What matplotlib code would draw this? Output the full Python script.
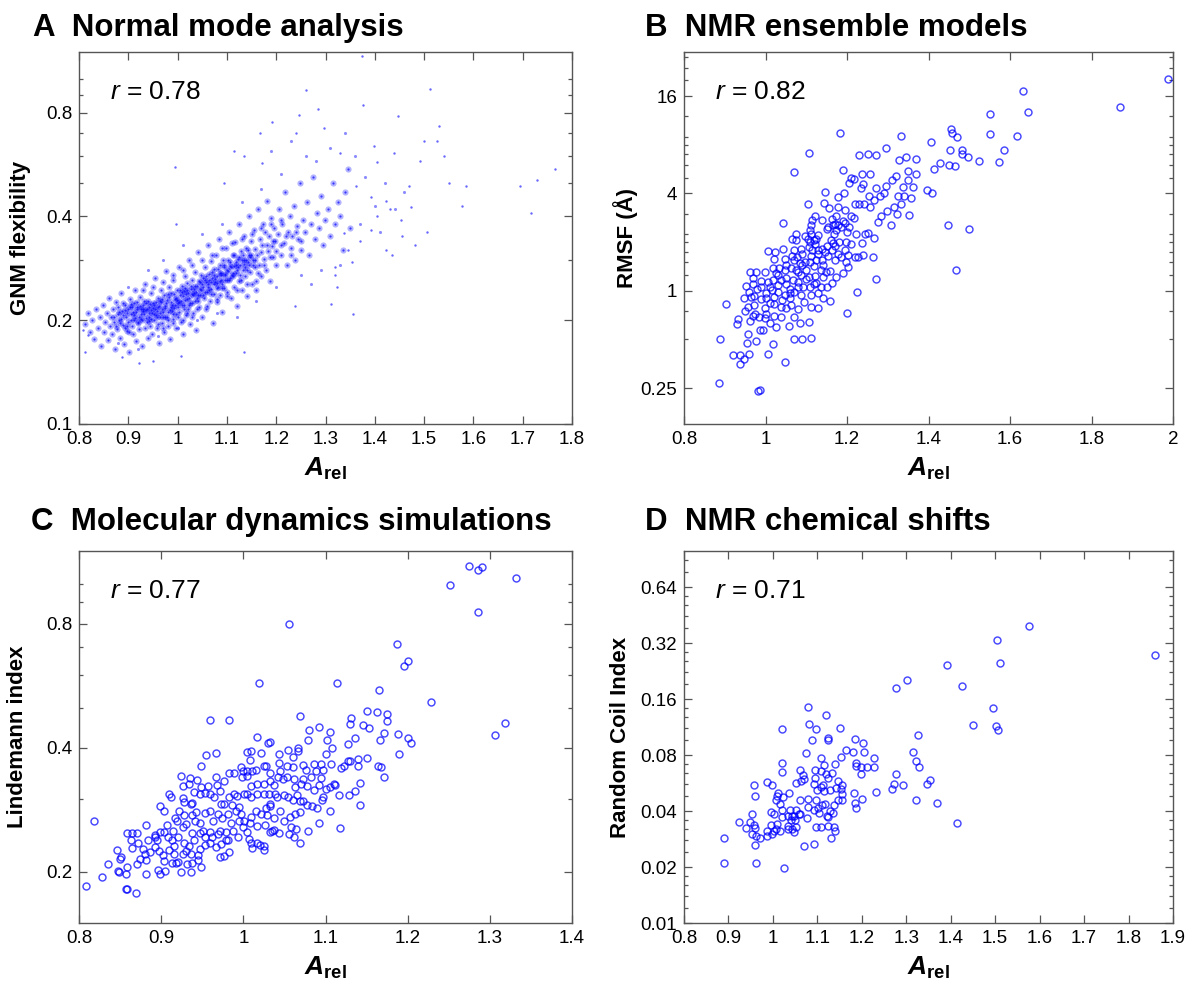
import matplotlib
matplotlib.use('Agg')
import matplotlib.pyplot as plt
from matplotlib.ticker import FixedLocator, NullFormatter

plt.rcParams['font.family'] = ['Liberation Sans', 'DejaVu Sans']
plt.rcParams['mathtext.fontset'] = 'custom'
plt.rcParams['mathtext.rm'] = 'Liberation Sans'
plt.rcParams['mathtext.it'] = 'Liberation Sans:italic:bold'
plt.rcParams['mathtext.bf'] = 'Liberation Sans:bold'
plt.rcParams['mathtext.sf'] = 'Liberation Sans:italic'

# ---------------- data ----------------
# A: normal mode analysis (A_rel, GNM flexibility)
gnm_core = [
    (0.812,0.195),(0.818,0.21),(0.822,0.185),(0.826,0.2),(0.83,0.176),(0.834,0.215),(0.838,0.19),
    (0.842,0.205),(0.845,0.168),(0.848,0.222),(0.85,0.185),(0.852,0.198),(0.856,0.21),(0.858,0.175),
    (0.86,0.232),(0.862,0.193),(0.865,0.204),(0.867,0.183),(0.869,0.216),(0.871,0.197),(0.873,0.165),
    (0.875,0.226),(0.877,0.189),(0.879,0.208),(0.881,0.2),(0.883,0.178),(0.885,0.24),(0.887,0.213),
    (0.889,0.194),(0.891,0.171),(0.893,0.222),(0.895,0.205),(0.897,0.186),(0.899,0.215),(0.9,0.198),
    (0.902,0.162),(0.904,0.23),(0.905,0.208),(0.907,0.192),(0.908,0.219),(0.91,0.182),(0.912,0.2),
    (0.913,0.245),(0.915,0.212),(0.916,0.174),(0.918,0.226),(0.919,0.196),(0.921,0.205),(0.922,0.188),
    (0.924,0.234),(0.925,0.215),(0.927,0.2),(0.928,0.168),(0.93,0.222),(0.931,0.209),(0.933,0.19),
    (0.934,0.255),(0.936,0.214),(0.937,0.198),(0.939,0.178),(0.94,0.228),(0.942,0.205),(0.943,0.218),
    (0.945,0.193),(0.946,0.24),(0.948,0.21),(0.949,0.183),(0.951,0.225),(0.952,0.2),(0.954,0.215),
    (0.955,0.265),(0.957,0.207),(0.958,0.19),(0.96,0.232),(0.961,0.219),(0.963,0.172),(0.964,0.204),
    (0.966,0.245),(0.967,0.226),(0.969,0.196),(0.97,0.212),(0.972,0.236),(0.973,0.185),(0.975,0.22),
    (0.976,0.278),(0.978,0.205),(0.979,0.229),(0.981,0.193),(0.982,0.25),(0.984,0.214),(0.985,0.176),
    (0.987,0.24),(0.988,0.222),(0.99,0.202),(0.991,0.261),(0.993,0.217),(0.994,0.231),(0.996,0.19),
    (0.997,0.208),(0.999,0.244),(1.0,0.225),(1.002,0.212),(1.003,0.285),(1.005,0.236),(1.006,0.198),
    (1.008,0.252),(1.009,0.221),(1.011,0.182),(1.012,0.243),(1.014,0.229),(1.015,0.268),(1.017,0.207),
    (1.018,0.238),(1.02,0.256),(1.021,0.216),(1.023,0.3),(1.024,0.232),(1.026,0.195),(1.027,0.247),
    (1.029,0.224),(1.03,0.262),(1.032,0.21),(1.033,0.24),(1.035,0.276),(1.036,0.228),(1.038,0.187),
    (1.039,0.252),(1.041,0.236),(1.042,0.315),(1.044,0.219),(1.045,0.258),(1.047,0.244),(1.048,0.27),
    (1.05,0.205),(1.052,0.25),(1.053,0.232),(1.055,0.286),(1.056,0.262),(1.058,0.215),(1.059,0.241),
    (1.061,0.33),(1.062,0.255),(1.064,0.272),(1.065,0.228),(1.067,0.298),(1.068,0.247),(1.07,0.265),
    (1.071,0.196),(1.073,0.238),(1.074,0.281),(1.076,0.258),(1.077,0.31),(1.079,0.226),(1.08,0.268),
    (1.082,0.25),(1.083,0.345),(1.085,0.29),(1.086,0.236),(1.088,0.275),(1.089,0.262),(1.091,0.212),
    (1.092,0.3),(1.094,0.248),(1.095,0.285),(1.097,0.27),(1.098,0.325),(1.1,0.242),(1.102,0.278),
    (1.104,0.262),(1.105,0.36),(1.107,0.295),(1.109,0.232),(1.11,0.27),(1.112,0.31),(1.114,0.25),
    (1.115,0.288),(1.117,0.338),(1.119,0.275),(1.12,0.22),(1.122,0.302),(1.124,0.26),(1.125,0.38),
    (1.127,0.29),(1.129,0.318),(1.13,0.245),(1.132,0.28),(1.134,0.35),(1.135,0.3),(1.137,0.268),
    (1.139,0.325),(1.14,0.235),(1.142,0.295),(1.144,0.4),(1.145,0.31),(1.147,0.276),(1.149,0.34),
    (1.15,0.255),(1.152,0.3),(1.154,0.365),(1.156,0.285),(1.158,0.322),(1.16,0.245),(1.162,0.31),
    (1.164,0.42),(1.166,0.29),(1.168,0.345),(1.17,0.268),(1.172,0.33),(1.174,0.38),(1.176,0.302),
    (1.178,0.36),(1.18,0.28),(1.182,0.445),(1.184,0.318),(1.186,0.35),(1.188,0.26),(1.19,0.395),
    (1.192,0.328),(1.194,0.305),(1.196,0.37),(1.198,0.34),(1.2,0.29),(1.203,0.355),(1.206,0.42),
    (1.209,0.31),(1.212,0.38),(1.215,0.335),(1.218,0.47),(1.221,0.29),(1.224,0.36),(1.227,0.4),
    (1.23,0.325),(1.233,0.35),(1.236,0.43),(1.239,0.3),(1.242,0.375),(1.245,0.345),(1.248,0.5),
    (1.25,0.32),(1.254,0.39),(1.258,0.36),(1.262,0.44),(1.266,0.31),(1.27,0.38),(1.274,0.52),
    (1.278,0.345),(1.282,0.41),(1.286,0.37),(1.29,0.46),(1.294,0.33),(1.298,0.39),(1.305,0.42),
    (1.31,0.35),(1.315,0.5),(1.32,0.38),(1.325,0.44),(1.33,0.4),(1.335,0.32),(1.34,0.47),(1.345,0.55),
    (1.35,0.37),
]
gnm_ridge = [
    (0.882,0.212),(0.886,0.201),(0.89,0.207),(0.894,0.214),(0.898,0.193),(0.903,0.218),(0.906,0.2),
    (0.909,0.211),(0.911,0.224),(0.914,0.203),(0.917,0.215),(0.92,0.197),(0.923,0.22),(0.926,0.208),
    (0.929,0.213),(0.932,0.228),(0.935,0.203),(0.938,0.216),(0.941,0.21),(0.944,0.223),(0.947,0.201),
    (0.95,0.217),(0.953,0.208),(0.956,0.226),(0.959,0.213),(0.962,0.22),(0.965,0.21),(0.968,0.231),
    (0.971,0.204),(0.974,0.217),(0.977,0.224),(0.98,0.211),(0.983,0.234),(0.986,0.226),(0.989,0.213),
    (0.992,0.238),(0.995,0.221),(0.998,0.229),(1.001,0.218),(1.004,0.245),(1.007,0.228),(1.01,0.235),
    (1.013,0.221),(1.016,0.248),(1.019,0.23),(1.022,0.24),(1.025,0.225),(1.028,0.252),(1.031,0.236),
    (1.034,0.247),(1.037,0.241),(1.04,0.232),(1.043,0.26),(1.046,0.237),(1.049,0.255),(1.052,0.266),
    (1.055,0.242),(1.058,0.258),(1.061,0.249),(1.064,0.262),(1.067,0.238),(1.07,0.276),(1.073,0.255),
    (1.076,0.264),(1.079,0.248),(1.082,0.282),(1.085,0.26),(1.088,0.27),(1.091,0.255),(1.094,0.29),
    (1.097,0.262),(1.1,0.28),(1.103,0.3),(1.106,0.265),(1.109,0.285),(1.112,0.274),(1.115,0.31),
    (1.118,0.29),(1.121,0.28),(1.124,0.305),(1.127,0.27),(1.13,0.3),(1.133,0.31),(1.136,0.285),
    (1.139,0.3),(1.142,0.32),(1.145,0.29),(1.148,0.31),
]
gnm_dense = [
    (0.905,0.223),(0.912,0.207),(0.918,0.219),(0.925,0.202),(0.93,0.216),(0.936,0.224),(0.941,0.199),
    (0.947,0.214),(0.953,0.222),(0.958,0.204),(0.964,0.228),(0.969,0.215),(0.975,0.205),(0.98,0.238),
    (0.986,0.219),(0.991,0.208),(0.997,0.232),(1.002,0.226),(1.008,0.241),(1.013,0.215),(1.019,0.244),
    (1.024,0.222),(1.03,0.238),(1.035,0.252),(1.041,0.228),(1.046,0.246),(1.052,0.236),(1.057,0.268),
    (1.063,0.245),(1.068,0.258),(1.074,0.27),(1.079,0.256),(1.085,0.275),(1.09,0.248),(1.096,0.272),
    (1.101,0.262),(1.107,0.288),(1.112,0.268),(1.118,0.296),(1.123,0.285),(1.129,0.262),(1.134,0.292),
    (1.14,0.28),(1.146,0.305),(1.152,0.29),(1.158,0.3),(1.164,0.275),(1.17,0.315),(1.176,0.29),
    (1.182,0.33),(1.188,0.305),(1.194,0.34),(1.2,0.318),(1.21,0.33),(1.22,0.35),(1.23,0.31),
    (1.24,0.36),(1.25,0.34),(0.87,0.205),(0.875,0.192),(0.88,0.218),(0.884,0.196),(0.889,0.224),
    (0.893,0.19),(0.897,0.21),(0.901,0.185),(0.96,0.195),(0.97,0.19),(0.98,0.2),(0.99,0.196),
    (1.0,0.205),(1.01,0.2),(1.02,0.21),(1.03,0.205),(1.04,0.215),(1.06,0.22),(1.08,0.23),(1.1,0.235),
    (1.12,0.245),(1.14,0.255),(1.16,0.26),(0.93,0.245),(0.95,0.25),(0.97,0.258),(0.99,0.27),
    (1.01,0.28),(1.03,0.29),(1.05,0.3),(1.07,0.31),(1.09,0.325),(1.11,0.335),(1.13,0.345),
    (1.15,0.355),(1.17,0.37),(1.19,0.38),(1.21,0.39),
]
gnm_halo = [
    (0.88,0.172),(0.92,0.165),(0.96,0.18),(1.0,0.19),(1.04,0.2),(1.08,0.21),(1.12,0.205),(1.16,0.228),
    (1.2,0.25),(1.25,0.27),(0.9,0.25),(0.94,0.28),(0.97,0.3),(1.01,0.33),(1.05,0.355),(1.09,0.38),
    (1.13,0.44),(1.17,0.48),(1.21,0.53),(1.26,0.6),(1.23,0.66),(1.19,0.62),(1.28,0.58),(1.31,0.63),
    (1.34,0.7),(1.36,0.6),(1.38,0.52),(1.4,0.43),(1.42,0.5),(1.37,0.38),(1.41,0.36),(1.44,0.42),
    (1.46,0.47),(1.33,0.29),(1.29,0.28),(1.27,0.255),
]
gnm_outliers = [
    (1.374,1.17),(1.261,0.93),(1.512,0.94),(1.284,0.82),(1.377,0.84),(1.246,0.79),(1.448,0.78),
    (1.192,0.75),(1.297,0.72),(1.531,0.73),(1.241,0.70),(1.5,0.66),(1.526,0.66),(1.541,0.6),
    (1.765,0.55),(1.729,0.51),(1.694,0.49),(1.585,0.49),(1.55,0.5),(1.577,0.43),(1.717,0.41),
    (0.994,0.557),(1.095,0.5),(1.115,0.62),(0.997,0.38),(1.505,0.36),(1.482,0.33),(1.456,0.35),
    (1.435,0.31),(1.354,0.295),(1.32,0.27),(1.311,0.223),(1.355,0.209),(1.238,0.22),(1.171,0.57),
    (1.167,0.70),(1.135,0.6),(1.33,0.61),(1.404,0.575),(1.398,0.64),(1.438,0.61),(1.492,0.58),
    (1.469,0.49),(1.361,0.49),(1.392,0.455),(1.423,0.445),(1.404,0.40),(1.431,0.42),(1.473,0.425),
    (1.454,0.39),(1.338,0.357),(1.369,0.34),(1.392,0.365),(1.423,0.32),(1.346,0.32),(1.319,0.285),
    (1.323,0.25),(0.922,0.15),(0.951,0.152),(1.007,0.157),(1.135,0.162),(0.887,0.156),(0.812,0.162),
    (0.818,0.181),(0.809,0.187),
]

# B: NMR ensemble models (A_rel, RMSF)
rmsf_upper = [
    (1.988,20.4),(1.871,13.7),(1.631,17.3),(1.644,12.8),(1.552,12.4),(1.55,9.3),(1.617,9.1),
    (1.586,7.4),(1.572,6.3),(1.524,6.35),(1.497,6.7),(1.481,7.4),(1.481,7.0),(1.454,9.96),
    (1.457,9.5),(1.471,9.0),(1.453,7.4),(1.45,6.0),(1.466,5.95),(1.429,6.2),(1.414,5.65),
    (1.405,8.27),(1.332,9.1),(1.296,7.6),(1.328,6.4),(1.344,6.7),(1.37,6.5),(1.37,5.3),(1.349,5.5),
    (1.32,5.1),(1.257,5.3),(1.238,5.3),(1.23,6.96),(1.252,7.0),(1.27,6.9),(1.184,9.5),(1.19,5.6),
    (1.106,7.1),(1.069,5.4),(1.5,2.4),(1.217,4.95),(1.21,5.0),(1.447,2.55),(1.468,1.35),
]
rmsf_cluster = [
    (1.205,4.66),(1.24,4.61),(1.235,4.35),(1.272,4.33),(1.295,4.46),(1.31,4.84),(1.337,4.4),
    (1.349,4.84),(1.362,4.4),(1.396,4.23),(1.408,4.03),(1.146,4.07),(1.178,3.78),(1.192,4.0),
    (1.254,3.86),(1.267,3.64),(1.282,3.86),(1.291,4.05),(1.326,3.86),(1.341,3.86),(1.356,3.76),
    (1.332,3.44),(1.315,3.31),(1.298,3.12),(1.322,2.98),(1.353,2.96),(1.104,3.44),(1.143,3.47),
    (1.156,3.23),(1.178,3.28),(1.196,3.18),(1.22,3.44),(1.23,3.44),(1.241,3.44),(1.256,3.28),
    (1.275,2.67),(1.283,2.89),(1.309,2.57),(1.043,2.61),(1.121,2.89),(1.115,2.76),(1.139,2.76),
    (1.163,2.8),(1.172,2.89),(1.153,2.49),(1.166,2.55),(1.178,2.55),(1.186,2.49),(1.196,2.63),
    (1.206,2.49),(1.217,2.84),(1.2,2.32),(1.112,2.57),(1.108,2.39),(1.112,2.26),(1.096,2.18),
    (1.075,2.26),(1.065,2.1),(1.075,2.06),(1.104,2.1),(1.118,2.06),(1.125,2.1),(1.122,1.96),
    (1.168,2.26),(1.174,2.37),(1.166,1.98),(1.18,2.01),(1.197,2.01),(1.211,1.96),(1.222,2.23),
    (1.236,1.98),(1.244,2.26),(1.252,2.29),(1.266,2.13),(1.005,1.77),(1.024,1.73),(1.02,1.58),
    (1.043,1.82),(1.071,1.8),(1.088,1.82),(1.107,1.87),(1.115,1.78),(1.129,1.78),(1.139,1.82),
    (1.145,1.74),(1.162,1.78),(1.178,1.7),(1.195,1.78),(1.203,1.66),(1.219,1.62),(1.227,1.61),
    (1.24,1.66),(1.265,1.61),(1.047,1.58),(1.065,1.64),(1.077,1.62),(1.085,1.49),(1.096,1.51),
    (1.112,1.64),(1.125,1.56),(1.139,1.55),(1.153,1.64),(1.17,1.55),(1.186,1.61),(1.197,1.51),
    (1.203,1.41),(0.962,1.31),(0.977,1.31),(0.998,1.31),(1.018,1.39),(1.032,1.39),(1.026,1.28),
    (1.047,1.34),(1.063,1.39),(1.075,1.34),(1.088,1.25),(1.106,1.22),(1.121,1.23),(1.137,1.34),
    (1.149,1.31),(1.159,1.33),(1.174,1.21),(1.19,1.28),(1.272,1.18),(0.953,1.07),(0.969,1.1),
    (0.988,1.06),(1.006,1.14),(1.018,1.17),(1.037,1.17),(1.051,1.1),(1.067,1.16),(1.08,1.14),
    (1.092,1.06),(1.108,1.05),(1.125,1.11),(1.137,1.06),(1.152,1.06),(1.163,1.11),(0.948,0.897),
    (0.965,0.918),(0.973,0.927),(0.989,0.889),(1.002,0.963),(1.016,1.01),(1.03,0.987),(1.047,0.94),
    (1.059,0.963),(1.071,0.987),(1.088,0.94),(1.112,0.94),(1.129,0.963),(1.141,0.897),(1.158,0.867),
    (1.225,0.99),(0.902,0.827),(0.958,0.796),(0.971,0.815),(0.998,0.778),(1.01,0.835),(1.022,0.827),
    (1.039,0.796),(1.051,0.778),(1.063,0.815),(1.08,0.767),(1.094,0.855),(1.112,0.796),(1.129,0.778),
    (0.932,0.665),(0.929,0.622),(0.963,0.653),(0.975,0.717),(0.985,0.69),(0.999,0.675),(1.011,0.634),
    (1.026,0.599),(1.037,0.684),(1.057,0.607),(1.071,0.69),(1.085,0.634),(1.107,0.637),(1.199,0.724),
    (0.888,0.503),(0.956,0.54),(0.954,0.477),(0.977,0.49),(0.986,0.571),(0.993,0.571),(1.018,0.472),
    (1.071,0.5),(1.09,0.5),(1.111,0.507),(0.921,0.402),(0.938,0.402),(0.947,0.38),(0.96,0.406),
    (0.938,0.353),(1.006,0.406),(1.048,0.365),(0.885,0.27),(0.981,0.24),(0.986,0.245),
]
rmsf_dense = [
    (0.97,1.2),(0.99,1.15),(1.01,1.05),(1.03,1.08),(1.05,1.2),(1.06,1.02),(1.08,1.3),(1.09,1.45),
    (1.1,1.35),(1.11,1.5),(1.12,1.42),(1.13,1.68),(1.14,1.45),(1.15,1.9),(1.16,2.05),(1.17,1.88),
    (1.0,0.9),(1.02,0.92),(1.04,0.88),(1.06,0.9),(1.08,1.05),(1.1,1.18),(1.12,1.1),(1.14,1.22),
    (0.96,0.98),(0.98,1.02),(1.07,1.55),(1.09,1.7),(1.11,2.0),(1.13,2.2),(1.15,2.4),(1.17,2.6),
    (1.19,2.7),(1.21,2.9),(1.03,1.25),(1.05,1.45),(0.95,0.75),(0.97,0.7),(1.0,0.72),(1.02,0.7),
]

# C: molecular dynamics simulations (A_rel, Lindemann index)
lind_upper = [
    (1.275,1.106),(1.291,1.10),(1.286,1.08),(1.332,1.03),(1.252,0.99),(1.286,0.853),(1.055,0.797),
    (1.228,0.515),(1.318,0.46),(1.306,0.428),
]
lind_cluster = [
    (1.187,0.715),(1.2,0.65),(1.195,0.632),(1.019,0.573),(1.114,0.573),(1.165,0.551),(1.15,0.491),
    (1.163,0.488),(1.175,0.483),(1.069,0.478),(1.131,0.473),(1.13,0.457),(1.146,0.454),(1.153,0.445),
    (1.175,0.463),(1.171,0.434),(1.166,0.418),(1.188,0.431),(1.2,0.423),(1.204,0.41),(1.19,0.386),
    (0.959,0.466),(0.982,0.467),(1.092,0.448),(1.08,0.44),(1.105,0.437),(1.079,0.417),(1.102,0.417),
    (1.017,0.425),(1.03,0.41),(1.032,0.412),(1.136,0.423),(1.127,0.408),(1.15,0.377),(1.14,0.375),
    (1.127,0.372),(1.108,0.399),(1.1,0.386),(1.067,0.399),(1.066,0.393),(1.054,0.395),(1.044,0.386),
    (1.06,0.379),(0.954,0.384),(0.967,0.388),(1.005,0.391),(1.009,0.392),(1.008,0.374),(1.021,0.388),
    (0.949,0.36),(0.997,0.358),(1.0,0.35),(1.005,0.351),(1.011,0.35),(1.016,0.353),(1.025,0.36),
    (1.028,0.361),(1.032,0.346),(1.044,0.366),(1.053,0.361),(1.061,0.358),(1.045,0.351),(1.073,0.363),
    (1.076,0.353),(1.086,0.364),(1.094,0.364),(1.088,0.351),(1.097,0.353),(1.107,0.364),(1.119,0.357),
    (1.122,0.36),(1.13,0.372),(1.14,0.36),(1.164,0.36),(1.168,0.358),(1.171,0.339),(0.924,0.341),
    (0.927,0.322),(0.935,0.337),(0.934,0.326),(0.944,0.334),(0.948,0.32),(0.957,0.323),(0.967,0.339),
    (0.968,0.325),(0.976,0.332),(0.982,0.346),(0.989,0.346),(0.998,0.339),(1.004,0.342),(1.009,0.322),
    (1.017,0.327),(1.025,0.327),(1.032,0.332),(1.037,0.325),(1.042,0.339),(1.048,0.335),(1.053,0.339),
    (1.062,0.335),(1.063,0.32),(1.07,0.327),(1.073,0.335),(1.078,0.323),(1.082,0.339),(1.086,0.315),
    (1.092,0.324),(1.094,0.337),(1.101,0.317),(1.106,0.32),(1.11,0.327),(1.111,0.324),(1.117,0.307),
    (1.128,0.307),(1.136,0.313),(1.142,0.328),(1.142,0.29),(0.91,0.308),(0.912,0.303),(0.927,0.302),
    (0.928,0.295),(0.938,0.294),(0.94,0.312),(0.947,0.309),(0.953,0.31),(0.959,0.308),(0.964,0.303),
    (0.971,0.314),(0.977,0.292),(0.983,0.303),(0.989,0.309),(0.992,0.305),(0.995,0.287),(1.001,0.308),
    (1.005,0.309),(1.009,0.303),(1.017,0.308),(1.025,0.309),(1.031,0.308),(1.033,0.292),(1.039,0.309),
    (1.041,0.303),(1.049,0.306),(1.054,0.303),(1.061,0.299),(1.065,0.306),(1.069,0.296),(1.073,0.297),
    (1.078,0.29),(1.084,0.288),(1.09,0.286),(1.096,0.299),(1.097,0.303),(1.105,0.281),(1.092,0.263),
    (1.118,0.255),(1.079,0.251),(1.069,0.235),(0.899,0.288),(0.904,0.281),(0.922,0.281),(0.928,0.274),
    (0.936,0.292),(0.938,0.274),(0.943,0.279),(0.947,0.263),(0.953,0.277),(0.96,0.281),(0.963,0.266),
    (0.969,0.276),(0.973,0.292),(0.974,0.27),(0.981,0.276),(0.986,0.29),(0.991,0.281),(0.997,0.276),
    (1.001,0.266),(1.009,0.271),(1.015,0.28),(1.021,0.276),(1.027,0.286),(1.029,0.274),(1.033,0.289),
    (1.037,0.27),(1.045,0.281),(1.049,0.266),(1.057,0.271),(1.063,0.276),(1.069,0.279),(1.058,0.256),
    (1.064,0.254),(1.062,0.243),(1.055,0.247),(1.043,0.248),(1.035,0.251),(1.026,0.259),(1.017,0.258),
    (1.008,0.263),(0.882,0.259),(0.884,0.238),(0.893,0.245),(0.899,0.25),(0.907,0.259),(0.914,0.251),
    (0.917,0.27),(0.919,0.266),(0.926,0.257),(0.93,0.261),(0.938,0.248),(0.941,0.266),(0.947,0.248),
    (0.951,0.251),(0.953,0.243),(0.959,0.249),(0.962,0.242),(0.969,0.247),(0.972,0.251),(0.979,0.249),
    (0.979,0.239),(0.985,0.263),(0.988,0.251),(0.994,0.243),(0.995,0.266),(0.999,0.256),(1.005,0.249),
    (1.007,0.24),(1.009,0.235),(1.011,0.228),(1.017,0.235),(1.02,0.232),(1.025,0.231),(1.025,0.226),
    (1.033,0.25),(1.037,0.252),(0.858,0.248),(0.864,0.248),(0.871,0.248),(0.892,0.242),(0.895,0.238),
    (0.903,0.249),(0.908,0.242),(0.913,0.238),(0.916,0.231),(0.921,0.242),(0.928,0.235),(0.934,0.231),
    (0.94,0.238),(0.947,0.227),(0.945,0.219),(0.953,0.232),(0.96,0.235),(0.967,0.229),(0.973,0.233),
    (0.981,0.238),(0.982,0.223),(0.971,0.217),(0.976,0.218),(0.846,0.225),(0.851,0.217),(0.85,0.214),
    (0.863,0.238),(0.865,0.228),(0.872,0.234),(0.878,0.227),(0.88,0.221),(0.886,0.223),(0.874,0.215),
    (0.882,0.213),(0.892,0.229),(0.897,0.224),(0.902,0.219),(0.904,0.212),(0.91,0.226),(0.916,0.221),
    (0.921,0.211),(0.926,0.221),(0.93,0.224),(0.936,0.221),(0.937,0.21),(0.949,0.205),(0.835,0.209),
    (0.848,0.201),(0.849,0.2),(0.858,0.205),(0.857,0.197),(0.87,0.209),(0.882,0.197),(0.896,0.202),
    (0.898,0.197),(0.905,0.201),(0.913,0.21),(0.918,0.21),(0.924,0.2),(0.932,0.209),(0.936,0.2),
    (0.945,0.213),(0.828,0.194),(0.809,0.184),(0.818,0.266),(0.857,0.181),(0.859,0.181),(0.869,0.177),
]

# D: NMR chemical shifts (A_rel, Random Coil Index)
rci_upper = [
    (1.577,0.393),(1.505,0.331),(1.859,0.275),(1.511,0.25),(1.391,0.243),(1.301,0.203),(1.425,0.189),
    (1.277,0.183),(1.496,0.143),(1.449,0.116),(1.501,0.114),(1.507,0.109),(1.415,0.0343),
]
rci_cluster = [
    (1.078,0.1445),(1.12,0.131),(1.02,0.11),(1.082,0.117),(1.096,0.111),(1.152,0.112),(1.087,0.0965),
    (1.123,0.0985),(1.123,0.0969),(1.184,0.098),(1.203,0.0933),(1.074,0.082),(1.165,0.0853),
    (1.181,0.0832),(1.205,0.0835),(1.228,0.0775),(1.109,0.0775),(1.154,0.078),(1.021,0.0727),
    (1.02,0.0652),(1.115,0.0708),(1.139,0.0713),(1.061,0.0665),(1.094,0.0665),(1.109,0.066),
    (1.186,0.0729),(1.187,0.07),(1.199,0.0694),(1.211,0.0688),(1.228,0.0688),(1.198,0.0633),
    (1.068,0.0628),(1.07,0.0596),(1.052,0.0565),(1.063,0.0583),(1.119,0.0633),(1.123,0.0601),
    (1.132,0.0638),(1.146,0.0578),(1.155,0.0549),(1.154,0.0528),(0.958,0.0555),(0.986,0.057),
    (0.998,0.0555),(1.095,0.0601),(1.092,0.056),(1.1,0.052),(1.109,0.0537),(1.113,0.0549),
    (1.116,0.0512),(1.141,0.0532),(1.129,0.0516),(1.155,0.0491),(1.156,0.0456),(1.147,0.0456),
    (1.183,0.0499),(1.2,0.0463),(1.184,0.0441),(1.187,0.0417),(1.233,0.0505),(1.278,0.0633),
    (1.273,0.056),(1.292,0.0549),(1.267,0.0526),(1.323,0.0456),(1.368,0.0441),(1.353,0.0588),
    (1.346,0.056),(1.316,0.0835),(1.321,0.0744),(1.329,0.0688),(1.327,0.102),(0.96,0.0481),
    (1.011,0.0502),(1.009,0.0483),(1.036,0.0497),(1.023,0.0475),(1.008,0.0456),(1.015,0.0437),
    (1.062,0.0458),(1.079,0.0465),(1.096,0.0456),(1.079,0.0423),(1.092,0.0403),(1.101,0.0416),
    (1.104,0.039),(1.111,0.0433),(1.117,0.0437),(1.121,0.0378),(1.128,0.04),(1.136,0.039),
    (1.138,0.0429),(1.123,0.0371),(0.952,0.0386),(0.949,0.0351),(0.924,0.035),(0.939,0.0325),
    (0.957,0.0338),(0.959,0.0325),(0.953,0.0302),(0.963,0.0292),(0.971,0.0286),(0.987,0.0295),
    (0.997,0.0302),(0.987,0.0314),(0.996,0.0394),(1.003,0.0386),(0.996,0.0335),(1.009,0.0341),
    (1.008,0.0321),(1.021,0.0403),(1.021,0.0371),(1.034,0.0378),(1.038,0.0403),(1.043,0.0378),
    (1.052,0.0403),(1.047,0.0378),(1.059,0.0386),(1.04,0.0358),(1.049,0.0356),(1.034,0.0334),
    (1.043,0.0321),(1.047,0.0308),(1.034,0.0321),(1.053,0.033),(1.062,0.0386),(1.076,0.0368),
    (1.017,0.0311),(1.002,0.0314),(1.096,0.0328),(1.109,0.0328),(1.123,0.0333),(1.138,0.0328),
    (1.139,0.0313),(1.13,0.0286),(1.092,0.0267),(1.07,0.0261),(0.959,0.0263),(0.891,0.0288),
    (0.89,0.021),(0.963,0.021),(1.026,0.0198),
]

r_values = ['0.78', '0.82', '0.77', '0.71']
panel_titles = ['A  Normal mode analysis', 'B  NMR ensemble models',
                'C  Molecular dynamics simulations', 'D  NMR chemical shifts']
y_titles = ['GNM flexibility', 'RMSF (Å)', 'Lindemann index', 'Random Coil Index']

# ---------------- figure ----------------
fig = plt.figure(figsize=(11.87, 9.9), dpi=100)
W, H = 1187.0, 990.0

def px_axes(l, t, r, b):
    return fig.add_axes([l / W, 1 - b / H, (r - l) / W, (b - t) / H])

ax_a = px_axes(79, 52, 572, 424)
ax_b = px_axes(684, 52, 1173, 424)
ax_c = px_axes(79, 551, 572, 923)
ax_d = px_axes(684, 551, 1173, 923)

ring = dict(linestyle='none', marker='o', markersize=5.0, markerfacecolor='none',
            markeredgecolor=(0, 0, 1, 0.72), markeredgewidth=1.05)

# dense cloud: soft overlapping dots so the core reads as a blue haze
pts = gnm_core + gnm_ridge + gnm_dense
ax_a.scatter([p[0] for p in pts], [p[1] for p in pts], s=20, color='blue',
             alpha=0.3, linewidths=0, marker='o')
ax_a.scatter([p[0] for p in pts], [p[1] for p in pts], s=2.5, color='blue',
             alpha=0.7, linewidths=0, marker='o')
ax_a.scatter([p[0] for p in gnm_halo], [p[1] for p in gnm_halo], s=5,
             color='blue', alpha=0.45, linewidths=0, marker='o')
ax_a.scatter([p[0] for p in gnm_outliers], [p[1] for p in gnm_outliers], s=3,
             color='blue', alpha=0.6, linewidths=0, marker='o')

pts = rmsf_upper + rmsf_cluster + rmsf_dense
ax_b.plot([p[0] for p in pts], [p[1] for p in pts], **ring)

pts = lind_upper + lind_cluster
ax_c.plot([p[0] for p in pts], [p[1] for p in pts], **ring)

pts = rci_upper + rci_cluster
ax_d.plot([p[0] for p in pts], [p[1] for p in pts], **ring)


def style(ax, xlim, xt, xtl, ylim, yt, ytl, yminor):
    ax.set_yscale('log')
    ax.set_xlim(*xlim)
    ax.set_ylim(*ylim)
    ax.set_xticks(xt, xtl)
    ax.set_yticks(yt, ytl)
    ax.yaxis.set_minor_locator(FixedLocator(yminor))
    ax.yaxis.set_minor_formatter(NullFormatter())
    ax.xaxis.set_minor_locator(FixedLocator([]))
    ax.tick_params(which='both', direction='in', top=True, right=True,
                   color='#555555', width=0.9, labelsize=13.5, pad=5)
    ax.tick_params(which='major', length=5.5)
    ax.tick_params(which='minor', length=3)
    for s in ax.spines.values():
        s.set_color('#555555')
        s.set_linewidth(1.0)


style(ax_a, (0.8, 1.8), [0.8 + 0.1 * i for i in range(11)],
      ['0.8', '0.9', '1', '1.1', '1.2', '1.3', '1.4', '1.5', '1.6', '1.7', '1.8'],
      (0.1, 1.2), [0.1, 0.2, 0.4, 0.8], ['0.1', '0.2', '0.4', '0.8'],
      [0.3, 0.5, 0.6, 0.7, 0.9, 1.0])
style(ax_b, (0.8, 2.0), [0.8, 1.0, 1.2, 1.4, 1.6, 1.8, 2.0],
      ['0.8', '1', '1.2', '1.4', '1.6', '1.8', '2'],
      (0.15, 30), [0.25, 1, 4, 16], ['0.25', '1', '4', '16'],
      [0.5, 0.75, 1.25, 1.5, 1.75, 2, 2.25, 3, 5, 6, 7, 8, 9, 12, 20, 24, 28])
style(ax_c, (0.8, 1.4), [0.8, 0.9, 1.0, 1.1, 1.2, 1.3, 1.4],
      ['0.8', '0.9', '1', '1.1', '1.2', '1.3', '1.4'],
      (0.15, 1.2), [0.2, 0.4, 0.8], ['0.2', '0.4', '0.8'],
      [0.3, 0.5, 0.6, 0.7, 0.9, 1.0])
oct_minor = []
for base in [0.01, 0.02, 0.04, 0.08, 0.16, 0.32, 0.64]:
    oct_minor += [base * f for f in (1.2, 1.4, 1.6, 1.8)]
style(ax_d, (0.8, 1.9), [0.8 + 0.1 * i for i in range(12)],
      ['0.8', '0.9', '1', '1.1', '1.2', '1.3', '1.4', '1.5', '1.6', '1.7', '1.8', '1.9'],
      (0.01, 1.0), [0.01, 0.02, 0.04, 0.08, 0.16, 0.32, 0.64],
      ['0.01', '0.02', '0.04', '0.08', '0.16', '0.32', '0.64'], oct_minor)

axes = [ax_a, ax_b, ax_c, ax_d]
ylab_x = [-0.118, -0.12, -0.124, -0.13]
for ax, r, yl, lx in zip(axes, r_values, y_titles, ylab_x):
    ax.set_ylabel(yl, fontsize=16, fontweight='bold', va='center')
    ax.yaxis.set_label_coords(lx, 0.5)
    ax.set_xlabel(r'$\mathit{A}_{\mathbf{rel}}$', fontsize=19, va='center')
    ax.xaxis.set_label_coords(0.5, -0.12)
    ax.text(0.063, 0.893, r'$\mathsf{r}$ = ' + r, transform=ax.transAxes,
            fontsize=19, ha='left', va='center')

title_pos = [(33, 28), (645, 28), (31, 522), (645, 522)]
for (tx, ty), t in zip(title_pos, panel_titles):
    fig.text(tx / W, 1 - ty / H, t, fontsize=22.5, fontweight='bold', va='center', ha='left')

fig.savefig('out.png', dpi=100, facecolor='white')
